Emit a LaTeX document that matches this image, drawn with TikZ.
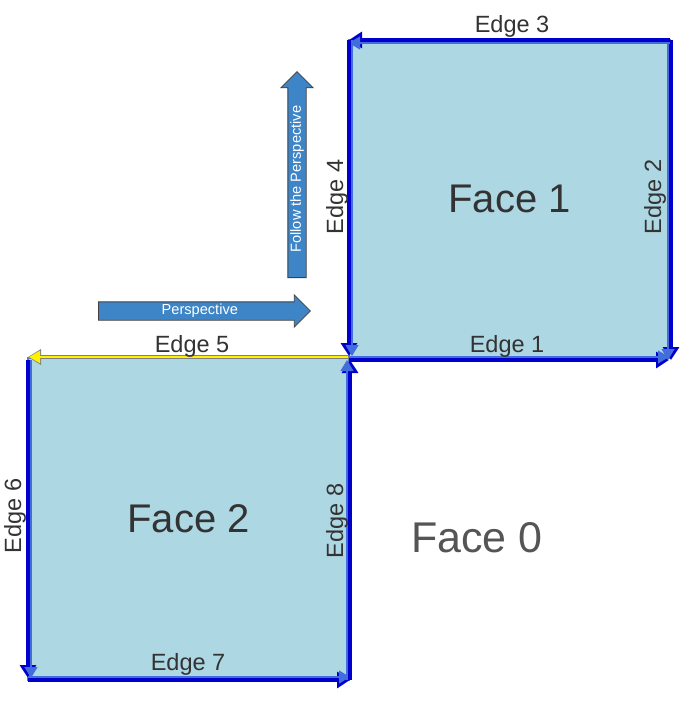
\documentclass[tikz,border=0pt]{standalone}
\usepackage{fontspec}
\setmainfont{Liberation Sans}
\usetikzlibrary{arrows.meta,shapes.arrows}

\definecolor{azulfuerte}{RGB}{0,0,205}
\definecolor{azulclaro}{RGB}{65,110,220}
\definecolor{celeste}{RGB}{173,215,226}
\definecolor{bordecara}{RGB}{90,130,180}
\definecolor{flecha}{RGB}{61,133,198}
\definecolor{texto}{RGB}{51,51,51}
\definecolor{gris}{RGB}{85,85,85}

\tikzset{
  cara/.style={rectangle, fill=celeste, draw=bordecara, line width=1.5pt,
    inner sep=0pt, outer sep=0pt, text=texto, font=\fontsize{40}{48}\selectfont},
  arista/.style={draw=azulfuerte, line width=3.5pt, -{Triangle[length=13pt,width=16pt]}},
  aristaint/.style={draw=azulclaro, line width=1.2pt, -{Triangle[length=11pt,width=13pt]}},
  etiqueta/.style={text=texto, font=\fontsize{23.5}{28}\selectfont, inner sep=0pt},
  bloque/.style={single arrow, single arrow head extend=7pt, fill=flecha,
    draw=black!75, line width=0.8pt, text=white, font=\fontsize{14.6}{17}\selectfont,
    text height=10.5pt, text depth=3pt, inner ysep=2pt, inner xsep=2pt}
}

\begin{document}
\begin{tikzpicture}[x=1pt, y=-1pt]
        \useasboundingbox (0, 0) rectangle (689, 701);

        % Caras
        \node[cara, minimum width=321pt, minimum height=318pt] (cara1) at (509.5, 199) {Face 1};
        \node[cara, minimum width=321pt, minimum height=322pt] (cara2) at (188.5, 519) {Face 2};
        \node[text=gris, font=\fontsize{43}{51}\selectfont] (cara0) at (477, 538) {Face 0};

        % Aristas (origen/desplazamiento/destino/desplazamiento/hacia dentro)
        \foreach \a/\sa/\b/\sb/\dn in {
            cara1.south west/{0,2}/cara1.south east/{-1,2}/{0,-3},
            cara1.north east/{1,0}/cara1.south east/{1,2}/{-3,0},
            cara1.north east/{0,0}/cara1.north west/{0,0}/{0,3},
            cara1.north west/{0,0}/cara1.south west/{0,-2}/{3,0},
            cara2.north west/{0,2}/cara2.south west/{0,-2}/{3,0},
            cara2.south west/{0,0}/cara2.south east/{1,0}/{0,-3},
            cara2.south east/{1,0}/cara2.north east/{1,2}/{-3,0}} {
            \draw[arista] ([shift={(\sa)}]\a) -- ([shift={(\sb)}]\b);
            \draw[aristaint] ([shift={(\sa)},shift={(\dn)}]\a) -- ([shift={(\sb)},shift={(\dn)}]\b);
        }

        % Arista amarilla
        \draw[draw=black!50, line width=3.4pt, -{Triangle[length=13pt,width=15pt]}]
            ([shift={(0,-1)}]cara2.north east) -- ([shift={(0,-1)}]cara2.north west);
        \draw[draw=yellow, line width=2pt, -{Triangle[length=11pt,width=12pt]}]
            ([shift={(-1,-1)}]cara2.north east) -- ([shift={(1,-1)}]cara2.north west);

        % Etiquetas de las aristas
        \node[etiqueta] (e3) at (512, 26) {Edge 3};
        \node[etiqueta] (e1) at (507, 346) {Edge 1};
        \node[etiqueta, rotate=90] (e2) at (655, 197) {Edge 2};
        \node[etiqueta, rotate=90] (e4) at (337, 197) {Edge 4};
        \node[etiqueta] (e5) at (192, 346) {Edge 5};
        \node[etiqueta, rotate=90] (e6) at (15, 516) {Edge 6};
        \node[etiqueta] (e7) at (188, 664) {Edge 7};
        \node[etiqueta, rotate=90] (e8) at (337, 521) {Edge 8};

        % Flechas de perspectiva
        \node[bloque, minimum height=212pt, anchor=tail] (persp) at (98, 311) {Perspective};
        \node[bloque, minimum height=206pt, anchor=tail, rotate=90] (seguir) at (297, 278) {Follow the Perspective};

    \end{tikzpicture}
\end{document}
